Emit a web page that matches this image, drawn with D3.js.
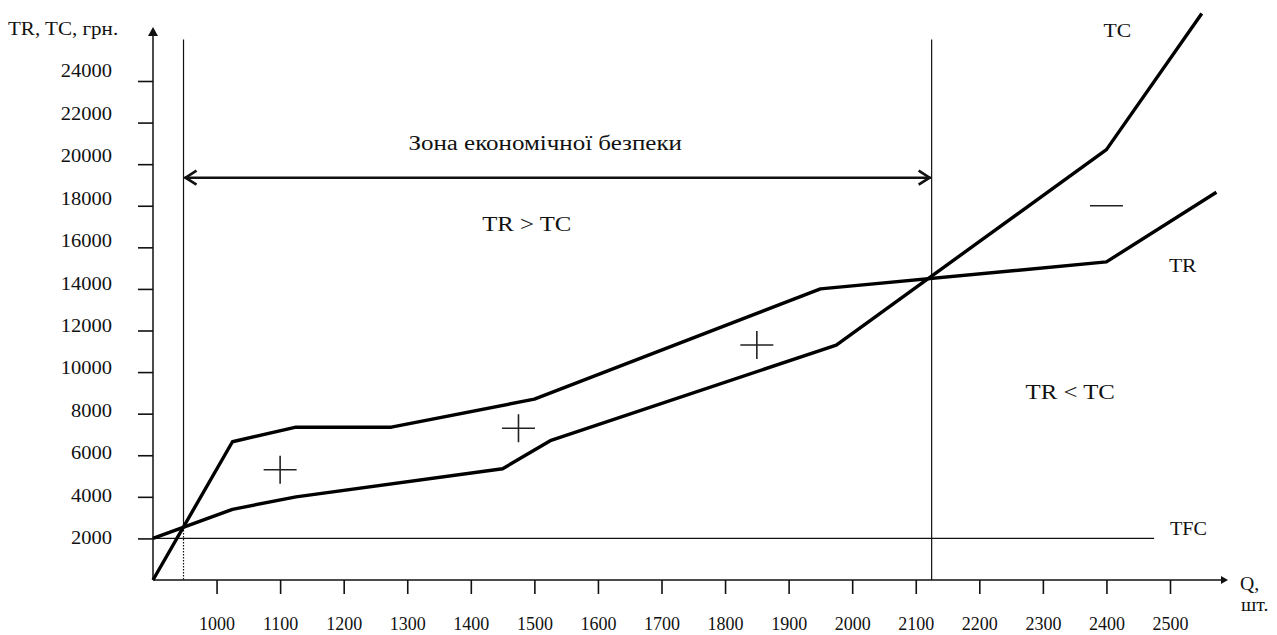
<!DOCTYPE html>
<html>
<head>
<meta charset="utf-8">
<script src="https://cdnjs.cloudflare.com/ajax/libs/d3/7.8.5/d3.min.js"></script>
<style>
  body { margin: 0; background: #ffffff; }
  svg text { font-family: "Liberation Serif", "Times New Roman", serif; fill: #111; }
  .tick line { stroke: #111; stroke-width: 1.6; }
</style>
</head>
<body>
<svg id="chart" width="1277" height="635"></svg>
<script>
// tick labels
var xTicks = [1000, 1100, 1200, 1300, 1400, 1500, 1600, 1700, 1800, 1900, 2000, 2100, 2200, 2300, 2400, 2500];
var yTicks = [2000, 4000, 6000, 8000, 10000, 12000, 14000, 16000, 18000, 20000, 22000, 24000];

// TR - total revenue
var trQ = [900, 1025, 1125, 1275, 1500, 1950, 2400, 2573];
var trV = [0, 6650, 7350, 7350, 8700, 14000, 15300, 18650];

// TC - total cost
var tcQ = [900, 1025, 1125, 1450, 1525, 1975, 2400, 2550];
var tcV = [2000, 3400, 4000, 5350, 6700, 11300, 20700, 27250];

// TFC - fixed cost
var tfcQ = [900, 2475];
var tfcV = [2000, 2000];

// zone of economic security (break-even points)
var zoneQ = [948, 2125];

// +/- signs
var plusQ = [1100, 1475, 1850];
var plusV = [5300, 7300, 11300];
var minusQ = [2400];
var minusV = [18000];

var svg = d3.select("#chart");

var x = d3.scaleLinear().domain([900, 2500]).range([153, 1170]);
var y = d3.scaleLinear().domain([0, 24000]).range([580, 81]);
// labels of y axis sit on a slightly wider spacing than the ticks
var yLab = d3.scaleLinear().domain([0, 24000]).range([580.5, 71]);

function label(txt, px, py, anchor, size, sx) {
    return svg.append("text")
        .attr("transform", "translate(" + px + "," + py + ") scale(" + sx + ",1)")
        .attr("text-anchor", anchor)
        .style("font-size", size + "px")
        .text(txt);
}

// axes lines with arrows
svg.append("line")
    .attr("x1", x(900)).attr("y1", y(0))
    .attr("x2", x(900)).attr("y2", 32)
    .attr("stroke", "#111").attr("stroke-width", 1.5);
svg.append("path")
    .attr("d", "M" + x(900) + ",27 l-5,9 l10,0 z")
    .attr("fill", "#111");

svg.append("line")
    .attr("x1", x(900)).attr("y1", y(0))
    .attr("x2", 1222).attr("y2", y(0))
    .attr("stroke", "#111").attr("stroke-width", 1.5);
svg.append("path")
    .attr("d", "M1228," + y(0) + " l-7,-4 l0,8 z")
    .attr("fill", "#111");

// y ticks
var yAxis = svg.append("g")
    .attr("transform", "translate(" + x(900) + ",0)")
    .call(d3.axisLeft(y).tickValues(yTicks).tickSize(15).tickSizeOuter(0).tickFormat(""));
yAxis.select(".domain").remove();

var yAxisLab = svg.append("g")
    .attr("transform", "translate(" + x(900) + ",0)")
    .call(d3.axisLeft(yLab).tickValues(yTicks).tickSize(0).tickFormat(d3.format("d")));
yAxisLab.select(".domain").remove();
yAxisLab.selectAll("text")
    .attr("x", 0)
    .attr("text-anchor", "end")
    .attr("transform", "translate(-41,0) scale(1.14,1)")
    .style("font-size", "18px")
    .attr("fill", "#111");

// x ticks
var xAxis = svg.append("g")
    .attr("transform", "translate(0," + y(0) + ")")
    .call(d3.axisBottom(x).tickValues(xTicks).tickSize(14).tickSizeOuter(0).tickPadding(23).tickFormat(d3.format("d")));
xAxis.select(".domain").remove();
xAxis.selectAll("text")
    .style("font-size", "18px")
    .attr("fill", "#111");

// TFC
svg.append("line")
    .attr("x1", x(tfcQ[0])).attr("y1", y(tfcV[0]))
    .attr("x2", x(tfcQ[1])).attr("y2", y(tfcV[1]))
    .attr("stroke", "#111").attr("stroke-width", 1.4);

// zone verticals
var trAt = d3.scaleLinear().domain(trQ).range(trV);
var crossV = trAt(zoneQ[0]);
svg.append("line")
    .attr("x1", x(zoneQ[0])).attr("y1", y(26000))
    .attr("x2", x(zoneQ[0])).attr("y2", y(crossV))
    .attr("stroke", "#111").attr("stroke-width", 1.2);
svg.append("line")
    .attr("x1", x(zoneQ[0])).attr("y1", y(crossV))
    .attr("x2", x(zoneQ[0])).attr("y2", y(0))
    .attr("stroke", "#111").attr("stroke-width", 1.2)
    .attr("stroke-dasharray", "1.5,1.5");
svg.append("line")
    .attr("x1", x(zoneQ[1])).attr("y1", y(26000))
    .attr("x2", x(zoneQ[1])).attr("y2", y(0))
    .attr("stroke", "#111").attr("stroke-width", 1.2);

// double arrow
var ay = y(19350);
svg.append("line")
    .attr("x1", x(zoneQ[0]) + 1).attr("y1", ay)
    .attr("x2", x(zoneQ[1]) - 1).attr("y2", ay)
    .attr("stroke", "#111").attr("stroke-width", 2.6);
svg.append("path")
    .attr("d", "M" + (x(zoneQ[0]) + 13) + "," + (ay - 7) + " L" + (x(zoneQ[0]) + 2) + "," + ay + " L" + (x(zoneQ[0]) + 13) + "," + (ay + 7) +
               " M" + (x(zoneQ[1]) - 13) + "," + (ay - 7) + " L" + (x(zoneQ[1]) - 2) + "," + ay + " L" + (x(zoneQ[1]) - 13) + "," + (ay + 7))
    .attr("fill", "none").attr("stroke", "#111").attr("stroke-width", 2.6);

// TR and TC lines
var lineGen = d3.line()
    .x(function(d) { return x(d[0]); })
    .y(function(d) { return y(d[1]); });

svg.append("path")
    .attr("d", lineGen(d3.zip(trQ, trV)))
    .attr("fill", "none").attr("stroke", "#000").attr("stroke-width", 3.4)
    .attr("stroke-linejoin", "round");
svg.append("path")
    .attr("d", lineGen(d3.zip(tcQ, tcV)))
    .attr("fill", "none").attr("stroke", "#000").attr("stroke-width", 3.4)
    .attr("stroke-linejoin", "round");

// plus / minus signs
plusQ.forEach(function(q, i) {
    var cx = x(q), cy = y(plusV[i]);
    svg.append("path")
        .attr("d", "M" + (cx - 16.5) + "," + cy + " h33 M" + cx + "," + (cy - 14) + " v28")
        .attr("stroke", "#222").attr("stroke-width", 1.6);
});
minusQ.forEach(function(q, i) {
    var cx = x(q), cy = y(minusV[i]);
    svg.append("path")
        .attr("d", "M" + (cx - 16.5) + "," + cy + " h33")
        .attr("stroke", "#222").attr("stroke-width", 1.6);
});

// texts
label("TR, TC, грн.", 8, 35, "start", 18, 1.17);
label("Q,", 1240, 590, "start", 18, 1.1);
label("шт.", 1241, 611, "start", 18, 1.1);
label("TC", x(2417), y(26100), "middle", 18, 1.2);
label("TR", x(2520), y(14800), "middle", 18, 1.2);
label("TFC", x(2500), y(2150), "start", 18, 1.12);
label("Зона економічної безпеки", x(1517), y(20700), "middle", 20, 1.25);
label("TR > TC", x(1488), y(16800), "middle", 21, 1.18);
label("TR < TC", x(2343), y(8700), "middle", 21, 1.18);
</script>
</body>
</html>
